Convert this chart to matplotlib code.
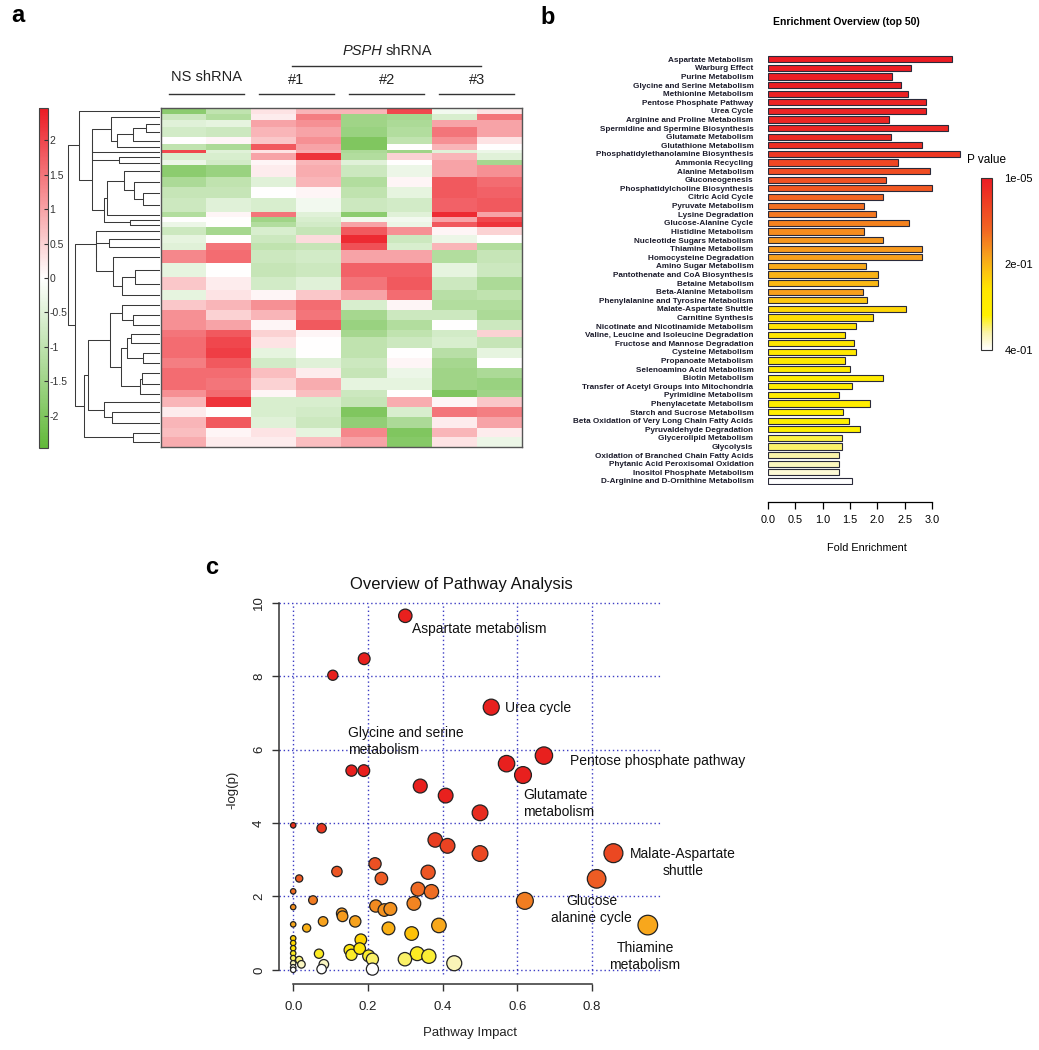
"""
Three-panel metabolomics figure: clustered heatmap (a), pathway
enrichment bars (b) and pathway-impact bubble plot (c).
"""
import numpy as np
import matplotlib.pyplot as plt
from matplotlib.colors import LinearSegmentedColormap, Normalize
from matplotlib.transforms import blended_transform_factory

plt.rcParams['font.family'] = ['Liberation Sans', 'DejaVu Sans']

# ---------------- panel a: heatmap bands (rows of equal values) ----------
group_names = ['NS shRNA', '#1', '#2', '#3']
band_rows = [6, 6, 7, 10, 7, 6, 3, 7, 5, 12, 10, 11, 14, 5, 5,
             5, 8, 8, 7, 13, 14, 13, 10, 10, 10, 10, 7,
             11, 10, 10, 10, 12, 7, 10, 10, 11, 9, 10]
band_values = [
    [-1.8, -1.0, 0.3, 0.8, 0.8, 2.0, -0.2, 0.3],
    [-0.8, -1.2, 0.2, 1.4, -1.5, -1.4, -0.6, 1.5],
    [-0.5, -0.4, 1.0, 1.2, -1.5, -1.3, 1.0, 1.0],
    [-0.7, -0.8, 0.8, 1.0, -1.6, -1.2, 1.5, 1.0],
    [0.0, 0.1, 0.6, 1.2, -2.0, -1.0, 1.2, 0.3],
    [-1.0, -1.3, 1.8, 1.0, -2.0, 0.0, 0.8, 0.0],
    [2.0, -0.5, 0.3, 0.9, -1.3, -1.5, -0.5, -0.3],
    [-0.6, -0.6, 1.0, 2.2, -1.2, 0.5, 0.8, -0.5],
    [-0.3, -0.7, 0.1, 0.8, -0.5, 0.0, 1.0, -1.4],
    [-1.8, -1.6, 0.2, 0.9, -0.8, -0.3, 1.0, 1.2],
    [-1.3, -1.0, -0.5, 0.8, -1.2, 0.1, 1.8, 1.6],
    [-0.9, -0.9, 0.0, 0.1, -1.0, -0.4, 1.8, 1.7],
    [-0.8, -0.5, -0.6, -0.2, -0.8, -0.7, 1.7, 1.8],
    [-1.2, 0.1, 1.5, -0.5, -1.8, -0.5, 2.3, 1.0],
    [0.0, 0.0, -1.5, -0.6, -0.2, -0.2, 1.0, 2.0],
    [-0.3, 0.0, -1.2, -0.7, 1.0, -0.3, 1.8, 2.2],
    [-0.8, -1.4, -0.6, -0.9, 1.8, 1.2, 0.1, 0.5],
    [-0.4, 0.0, -0.8, 0.4, 2.3, -0.8, -0.3, 0.0],
    [-0.5, 1.5, -1.0, -0.9, 1.9, -0.6, 0.8, -1.2],
    [1.3, 1.6, -0.8, -0.7, 1.0, 1.0, -1.2, -0.9],
    [-0.4, 0.0, -0.9, -0.8, 1.7, 1.7, -0.4, -0.8],
    [0.6, 0.2, -0.7, -0.5, 1.5, 1.8, -0.8, -1.3],
    [-0.4, 0.3, 0.1, 0.6, 1.0, 1.6, -1.1, -1.0],
    [0.6, 0.8, 1.2, 1.6, -0.6, 0.1, -1.2, -1.2],
    [1.2, 0.5, 0.8, 1.5, -1.4, -0.8, -0.8, -1.3],
    [1.2, 1.0, 0.1, 1.8, -1.6, -1.2, 0.0, -0.8],
    [1.5, 1.8, 0.5, 0.1, -1.4, -1.0, -0.7, 0.5],
    [1.6, 2.0, 0.3, 0.0, -1.0, -0.8, -0.6, -0.9],
    [1.6, 2.1, -0.4, 0.0, -1.0, 0.0, -1.1, -0.4],
    [1.4, 1.8, -0.7, -0.5, -0.8, 0.1, -1.4, 0.0],
    [1.6, 1.6, 0.7, 0.2, -0.9, -0.3, -1.5, -1.3],
    [1.6, 1.5, 0.5, 0.9, -0.4, -0.4, -1.5, -1.6],
    [1.2, 1.6, 0.1, 0.7, -0.8, 0.0, -2.0, -1.5],
    [0.8, 2.2, -0.6, -0.6, -0.9, 0.9, 0.1, 0.6],
    [0.2, 0.0, -0.6, -0.7, -2.0, -0.6, 1.5, 1.4],
    [0.8, 1.8, -0.5, -0.8, -1.7, -1.3, 0.2, 1.0],
    [0.7, 0.1, 0.3, -0.4, 1.3, -2.0, 0.8, 0.2],
    [0.9, 0.2, 0.2, 0.7, 1.0, -1.9, 0.3, -0.3],
]
heat_ticks = [-2, -1.5, -1, -0.5, 0, 0.5, 1, 1.5, 2]
heat_limit = 2.47

# ---------------- panel b: enrichment overview ----------------------------
pathways = [
    'Aspartate Metabolism', 'Warburg Effect', 'Purine Metabolism',
    'Glycine and Serine Metabolism', 'Methionine Metabolism',
    'Pentose Phosphate Pathway', 'Urea Cycle',
    'Arginine and Proline Metabolism', 'Spermidine and Spermine Biosynthesis',
    'Glutamate Metabolism', 'Glutathione Metabolism',
    'Phosphatidylethanolamine Biosynthesis', 'Ammonia Recycling',
    'Alanine Metabolism', 'Gluconeogenesis',
    'Phosphatidylcholine Biosynthesis', 'Citric Acid Cycle',
    'Pyruvate Metabolism', 'Lysine Degradation', 'Glucose-Alanine Cycle',
    'Histidine Metabolism', 'Nucleotide Sugars Metabolism',
    'Thiamine Metabolism', 'Homocysteine Degradation',
    'Amino Sugar Metabolism', 'Pantothenate and CoA Biosynthesis',
    'Betaine Metabolism', 'Beta-Alanine Metabolism',
    'Phenylalanine and Tyrosine Metabolism', 'Malate-Aspartate Shuttle',
    'Carnitine Synthesis', 'Nicotinate and Nicotinamide Metabolism',
    'Valine, Leucine and Isoleucine Degradation',
    'Fructose and Mannose Degradation', 'Cysteine Metabolism',
    'Propanoate Metabolism', 'Selenoamino Acid Metabolism',
    'Biotin Metabolism', 'Transfer of Acetyl Groups into Mitochondria',
    'Pyrimidine Metabolism', 'Phenylacetate Metabolism',
    'Starch and Sucrose Metabolism',
    'Beta Oxidation of Very Long Chain Fatty Acids',
    'Pyruvaldehyde Degradation', 'Glycerolipid Metabolism', 'Glycolysis',
    'Oxidation of Branched Chain Fatty Acids',
    'Phytanic Acid Peroxisomal Oxidation', 'Inositol Phosphate Metabolism',
    'D-Arginine and D-Ornithine Metabolism',
]
fold_enrichment = [
    3.37, 2.62, 2.27, 2.43, 2.55, 2.89, 2.89, 2.22, 3.29, 2.24,
    2.81, 3.51, 2.37, 2.96, 2.16, 3.00, 2.10, 1.76, 1.98, 2.58,
    1.76, 2.10, 2.81, 2.81, 1.79, 2.01, 2.01, 1.73, 1.80, 2.53,
    1.91, 1.60, 1.40, 1.58, 1.61, 1.40, 1.49, 2.10, 1.53, 1.29,
    1.87, 1.37, 1.48, 1.68, 1.35, 1.35, 1.30, 1.30, 1.30, 1.53,
]
p_values = [
    1e-5, 0.002, 0.004, 0.006, 0.008, 0.010, 0.012, 0.016, 0.020, 0.024,
    0.030, 0.045, 0.070, 0.080, 0.090, 0.100, 0.120, 0.130, 0.140, 0.150,
    0.160, 0.170, 0.175, 0.180, 0.190, 0.200, 0.205, 0.180, 0.220, 0.240,
    0.250, 0.255, 0.260, 0.265, 0.270, 0.275, 0.280, 0.285, 0.290, 0.295,
    0.300, 0.305, 0.310, 0.315, 0.335, 0.345, 0.360, 0.370, 0.380, 0.400,
]
p_ticks = [1e-5, 0.2, 0.4]
p_tick_labels = ['1e-05', '2e-01', '4e-01']
fold_ticks = [0.0, 0.5, 1.0, 1.5, 2.0, 2.5, 3.0]

# ---------------- panel c: pathway analysis overview ----------------------
impact = [
    0.300, 0.190, 0.106, 0.530, 0.671, 0.571, 0.615, 0.156, 0.189, 0.340,
    0.408, 0.500, 0.000, 0.076, 0.380, 0.413, 0.500, 0.857, 0.812, 0.219,
    0.117, 0.361, 0.016, 0.236, 0.334, 0.370, 0.000, 0.620, 0.053, 0.323,
    0.221, 0.244, 0.260, 0.000, 0.130, 0.132, 0.166, 0.080, 0.390, 0.949,
    0.036, 0.255, 0.000, 0.317, 0.181, 0.000, 0.000, 0.000, 0.000, 0.000,
    0.000, 0.000, 0.069, 0.151, 0.156, 0.178, 0.202, 0.212, 0.332, 0.363,
    0.299, 0.431, 0.016, 0.022, 0.082, 0.076, 0.212, 0.000,
]
neglogp = [
    9.65, 8.48, 8.03, 7.16, 5.84, 5.62, 5.31, 5.43, 5.43, 5.01,
    4.75, 4.28, 3.94, 3.86, 3.54, 3.38, 3.17, 3.18, 2.48, 2.89,
    2.68, 2.66, 2.49, 2.49, 2.20, 2.13, 2.14, 1.88, 1.90, 1.81,
    1.74, 1.63, 1.66, 1.71, 1.54, 1.46, 1.32, 1.32, 1.21, 1.22,
    1.14, 1.13, 1.24, 0.99, 0.82, 0.86, 0.73, 0.59, 0.45, 0.32,
    0.18, 0.07, 0.44, 0.54, 0.41, 0.58, 0.38, 0.29, 0.44, 0.37,
    0.29, 0.18, 0.27, 0.15, 0.15, 0.02, 0.02, 0.00,
]
labelled_points = [0, 3, 8, 4, 6, 17, 27, 39]
label_texts = ['Aspartate metabolism', 'Urea cycle',
               'Glycine and serine\nmetabolism', 'Pentose phosphate pathway',
               'Glutamate\nmetabolism', 'Malate-Aspartate\nshuttle',
               'Glucose\nalanine cycle', 'Thiamine\nmetabolism']
impact_ticks = [0.0, 0.2, 0.4, 0.6, 0.8]
neglogp_ticks = [0, 2, 4, 6, 8, 10]

W, H = 1039, 1050


def px_rect(left, top, right, bottom):
    """Axes rectangle in figure fractions from pixel edges."""
    return [left / W, 1 - bottom / H, (right - left) / W, (bottom - top) / H]


def contiguous_linkage(vals, weights):
    """Average linkage that only merges neighbouring clusters, so the
    tree keeps the row order of the heatmap."""
    dist = np.sqrt(((vals[:, None, :] - vals[None, :, :]) ** 2).sum(-1))
    pos = np.cumsum(weights) - np.asarray(weights) / 2.0
    clusters = [dict(m=[i], pos=pos[i], h=0.0) for i in range(len(vals))]
    links = []
    while len(clusters) > 1:
        best, best_d = 0, np.inf
        for k in range(len(clusters) - 1):
            a, b = clusters[k]['m'], clusters[k + 1]['m']
            wa, wb = weights[a], weights[b]
            d = (wa[:, None] * wb[None, :] * dist[np.ix_(a, b)]).sum()
            d /= wa.sum() * wb.sum()
            if d < best_d:
                best, best_d = k, d
        a, b = clusters[best], clusters[best + 1]
        h = max(best_d, a['h'], b['h'])
        links.append((a['pos'], a['h'], b['pos'], b['h'], h))
        clusters[best:best + 2] = [dict(m=a['m'] + b['m'],
                                        pos=(a['pos'] + b['pos']) / 2, h=h)]
    return links


fig = plt.figure(figsize=(W / 100, H / 100), dpi=100)

# ======================= panel a ==========================================
heat_cmap = LinearSegmentedColormap.from_list(
    'gwr', ['#62B93A', '#FFFFFF', '#EC1C24'])
vals = np.array(band_values)
rows = np.array(band_rows)
edges_y = np.concatenate([[0], np.cumsum(rows)])
edges_x = np.arange(vals.shape[1] + 1)

ax_h = fig.add_axes(px_rect(161, 108, 522, 447))
mesh = ax_h.pcolormesh(edges_x, edges_y, vals, cmap=heat_cmap,
                       vmin=-heat_limit, vmax=heat_limit)
ax_h.set_ylim(edges_y[-1], 0)
ax_h.set_xlim(0, vals.shape[1])
ax_h.set_xticks([])
ax_h.set_yticks([])
for s in ax_h.spines.values():
    s.set_color('#555555')
    s.set_linewidth(1.0)

# column group headers
tr = blended_transform_factory(ax_h.transData, ax_h.transAxes)
for g, name in enumerate(group_names):
    c = 2 * g + 1
    ax_h.plot([c - 0.83, c + 0.83], [1.041, 1.041], color='#333333',
              lw=1.0, transform=tr, clip_on=False)
    ax_h.text(c, 1.09 if g == 0 else 1.083, name, transform=tr,
              ha='center', va='center', fontsize=10.5, color='#222222')
ax_h.plot([2.9, 7.1], [1.124, 1.124], color='#333333', lw=1.0,
          transform=tr, clip_on=False)
ax_h.text(4.9, 1.168, 'PSPH', transform=tr, ha='right', va='center',
          fontsize=10.5, style='italic', color='#222222')
ax_h.text(4.98, 1.168, 'shRNA', transform=tr, ha='left', va='center',
          fontsize=10.5, color='#222222')

# row dendrogram
ax_d = fig.add_axes(px_rect(66, 108, 160, 447))
links = contiguous_linkage(vals, rows.astype(float))
for pa, ha, pb, hb, h in links:
    ax_d.plot([ha, h, h, hb], [pa, pa, pb, pb], color='#3a3a3a', lw=0.75,
              solid_capstyle='butt')
hmax = max(l[4] for l in links)
ax_d.set_xlim(hmax * 1.02, 0)
ax_d.set_ylim(edges_y[-1], 0)
ax_d.axis('off')

# colour key
cax_a = fig.add_axes(px_rect(39, 108, 48, 448))
cb_a = fig.colorbar(mesh, cax=cax_a, ticks=heat_ticks)
cb_a.set_ticklabels([f'{t:g}' for t in heat_ticks])
cb_a.outline.set_linewidth(0.8)
cb_a.outline.set_edgecolor('#444444')
cax_a.tick_params(direction='in', length=3, width=0.8, pad=1,
                  labelsize=7.5, labelcolor='#333333', color='#333333')

fig.text(18 / W, 1 - 16 / H, 'a', fontsize=17, fontweight='bold',
         ha='center', va='center')

# ======================= panel b ==========================================
p_cmap = LinearSegmentedColormap.from_list('pval', [
    (0.0, '#EC1C24'), (0.3, '#F26522'), (0.45, '#F7A01C'),
    (0.55, '#FCC510'), (0.65, '#FFE600'), (0.8, '#FFF100'),
    (0.9, '#FAF3A8'), (1.0, '#FFFFFF')])
p_norm = Normalize(vmin=1e-5, vmax=0.4)

ax_b = fig.add_axes(px_rect(768, 55, 965, 485.3))
ypos = np.arange(len(pathways))
ax_b.barh(ypos, fold_enrichment, height=0.72,
          color=p_cmap(p_norm(np.array(p_values))),
          edgecolor='#2a2a3a', linewidth=0.8)
ax_b.set_ylim(len(pathways) - 0.5, -0.5)
ax_b.set_xlim(0, 3.6)
ax_b.set_yticks(ypos)
ax_b.set_yticklabels(pathways, fontsize=5.9, fontweight='bold',
                     color='#1c1c2c')
ax_b.tick_params(axis='y', length=0, pad=10.5)
for side in ['left', 'top', 'right']:
    ax_b.spines[side].set_visible(False)
ax_b.spines['bottom'].set_position(('outward', 12))
ax_b.spines['bottom'].set_bounds(0, 3)
ax_b.spines['bottom'].set_linewidth(0.9)
ax_b.set_xticks(fold_ticks)
ax_b.set_xticklabels([f'{t:.1f}' for t in fold_ticks])
ax_b.tick_params(axis='x', length=5, width=0.9, labelsize=7.8, pad=4.5)
ax_b.set_xlabel('Fold Enrichment', fontsize=7.8, labelpad=13)

cax_b = fig.add_axes(px_rect(981, 178, 992, 350))
sm = plt.cm.ScalarMappable(norm=p_norm, cmap=p_cmap)
cb_b = fig.colorbar(sm, cax=cax_b, ticks=p_ticks)
cb_b.set_ticklabels(p_tick_labels)
cax_b.invert_yaxis()
cb_b.outline.set_linewidth(0.8)
cb_b.outline.set_edgecolor('#333333')
cax_b.tick_params(length=0, pad=9, labelsize=8)
fig.text(967 / W, 1 - 160 / H, 'P value', fontsize=8.5, ha='left',
         va='center')
fig.text(846 / W, 1 - 22 / H, 'Enrichment Overview (top 50)', fontsize=7.5,
         fontweight='bold', ha='center', va='center')
fig.text(548 / W, 1 - 17 / H, 'b', fontsize=17, fontweight='bold',
         ha='center', va='center')

# ======================= panel c ==========================================
dot_cmap = LinearSegmentedColormap.from_list('heat', [
    (0.0, '#FFFFFF'), (0.03, '#F8F3B0'), (0.06, '#FBEE30'),
    (0.1, '#FFE400'), (0.15, '#FFCC00'), (0.2, '#F8A81C'),
    (0.28, '#F39020'), (0.33, '#F07422'), (0.42, '#EE5A24'),
    (0.55, '#EA4522'), (0.68, '#E8301F'), (0.8, '#E8201E'),
    (1.0, '#E8201E')])
dot_norm = Normalize(vmin=0, vmax=6, clip=True)

ax_c = fig.add_axes(px_rect(279, 601.5, 662, 984))
ax_c.set_xlim(-0.038, 0.987)
ax_c.set_ylim(-0.386, 10.04)
grid_col = '#3d3dc4'
for gx in impact_ticks:
    ax_c.plot([gx, gx], [-0.1, 10.0], color=grid_col, lw=1.0, ls=(0, (1, 2)),
              zorder=1)
for gy in neglogp_ticks:
    ax_c.plot([-0.038, 0.987], [gy, gy], color=grid_col, lw=1.0,
              ls=(0, (1, 2)), zorder=1)

imp = np.array(impact)
nlp = np.array(neglogp)
radius_px = 2.7 + 7.3 * np.sqrt(imp)
sizes = (2 * radius_px * 72 / 100) ** 2
ax_c.scatter(imp, nlp, s=sizes, c=dot_cmap(dot_norm(nlp)),
             edgecolors='#222222', linewidths=0.9, zorder=3)

label_offsets = [(5, -9.4, 'left'), (10, -0.7, 'left'), (-11.5, 21, 'left'),
                 (18.7, -3.6, 'left'), (0, -20.5, 'left'),
                 (50, -6.8, 'center'), (48, -6.3, 'center'),
                 (-2, -22.5, 'center')]
for idx, text, (dx, dy, ha) in zip(labelled_points, label_texts,
                                    label_offsets):
    ax_c.annotate(text, (imp[idx], nlp[idx]), xytext=(dx, dy),
                  textcoords='offset points', ha=ha, va='center',
                  fontsize=10, linespacing=1.22, color='#111111', zorder=4)

for side in ['top', 'right']:
    ax_c.spines[side].set_visible(False)
ax_c.spines['left'].set_bounds(0, 10)
ax_c.spines['bottom'].set_bounds(0, 0.8)
for side in ['left', 'bottom']:
    ax_c.spines[side].set_linewidth(1.1)
    ax_c.spines[side].set_color('#333333')
ax_c.set_xticks(impact_ticks)
ax_c.set_xticklabels([f'{t:.1f}' for t in impact_ticks])
ax_c.set_yticks(neglogp_ticks)
ax_c.tick_params(length=5, width=1.0, color='#333333', labelsize=9.5,
                 labelcolor='#222222')
ax_c.tick_params(axis='x', pad=7.5)
ax_c.tick_params(axis='y', labelrotation=90, pad=5)
for lab in ax_c.get_yticklabels():
    lab.set_va('center')

fig.text(461 / W, 1 - 584 / H, 'Overview of Pathway Analysis', fontsize=12,
         ha='center', va='center', color='#111111')
fig.text(232 / W, 1 - 790 / H, '-log(p)', fontsize=9.5, rotation=90,
         ha='center', va='center', color='#222222')
fig.text(470 / W, 1 - 1033 / H, 'Pathway Impact', fontsize=9.5,
         ha='center', va='center', color='#222222')
fig.text(212 / W, 1 - 567 / H, 'c', fontsize=17, fontweight='bold',
         ha='center', va='center')

fig.savefig('out.png', dpi=100, facecolor='white')
